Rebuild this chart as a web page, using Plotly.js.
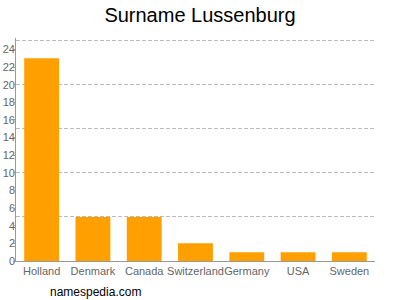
<!DOCTYPE html>
<html><head><meta charset="utf-8">
<script src="https://cdn.plot.ly/plotly-3.0.1.min.js"></script>
<style>html,body{margin:0;padding:0;background:#fff}#c{width:400px;height:300px}</style>
</head><body><div id="c"></div>
<script>
const categories = ["Holland","Denmark","Canada","Switzerland","Germany","USA","Sweden"];
const values = [23,5,5,2,1,1,1];
const yTickVals = [0,2,4,6,8,10,12,14,16,18,20,22,24];
const gridVals = [5,10,15,20,25];
const yRange = [0, 25.3];

const traces = [
  {type:'bar', x:categories, y:values, marker:{color:'#FFA000'}, hoverinfo:'none'},
  {type:'scatter', x:categories, y:values, yaxis:'y2', mode:'markers', marker:{opacity:0}, hoverinfo:'none', showlegend:false},
  {type:'scatter', x:categories, y:values, yaxis:'y3', mode:'markers', marker:{opacity:0}, hoverinfo:'none', showlegend:false}
];
const layout = {
  width:400, height:300,
  margin:{l:16, r:25, t:38, b:39},
  paper_bgcolor:'#fff', plot_bgcolor:'#fff',
  showlegend:false, bargap:0.32,
  font:{family:'Liberation Sans, Arial, sans-serif', size:11, color:'#666'},
  title:{text:'Surname Lussenburg', font:{size:20, color:'#000'}, x:0.5, xanchor:'center', y:0.95, yanchor:'middle'},
  xaxis:{type:'category', showline:true, linecolor:'#999', linewidth:1, ticks:'', tickangle:0, showgrid:false, tickfont:{size:11,color:'#666'}, fixedrange:true},
  yaxis:{range:yRange, tickvals:yTickVals, showline:false, ticks:'', showgrid:false, zeroline:false, tickfont:{size:11,color:'#666'}, ticklabelstandoff:0},
  yaxis2:{range:yRange, overlaying:'y', tickvals:gridVals, showticklabels:false, showgrid:true, gridcolor:'#bbb', griddash:'4px,2px', gridwidth:1, zeroline:false, showline:false, ticks:''},
  yaxis3:{range:yRange, overlaying:'y', tickvals:yTickVals, showticklabels:false, showgrid:false, zeroline:false, showline:true, linecolor:'#999', ticks:'outside', ticklen:2, tickcolor:'#999'},
  annotations:[{text:'namespedia.com', xref:'paper', yref:'paper', x:0.09, y:-0.1, xanchor:'left', yanchor:'top', showarrow:false, font:{size:12,color:'#000'}}]
};
Plotly.newPlot('c', traces, layout, {staticPlot:true});
</script></body></html>
